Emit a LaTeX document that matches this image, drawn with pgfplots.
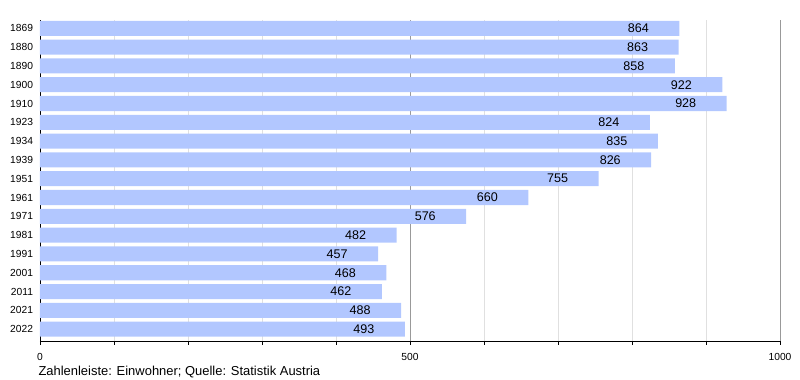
\documentclass[border=0pt]{standalone}
\usepackage{pgfplots}
\pgfplotsset{compat=1.18}
\usepackage{fontspec}
\setmainfont{Liberation Sans}
\definecolor{barblue}{RGB}{178,199,255}
\begin{document}
\begin{tikzpicture}
\begin{axis}[
 scale only axis, width=740bp, height=321bp,
 xbar, bar width=0.8,
 xmin=0, xmax=1000, ymin=-0.44, ymax=16.63, y dir=reverse,
 axis x line=bottom, axis y line=left,
 axis line style={-, black, line width=0.8pt},
 xtick={0,500,1000}, minor xtick={100,200,300,400,600,700,800,900},
 xmajorgrids, xminorgrids,
 major grid style={black!40, line width=0.8pt},
 minor grid style={black!12, line width=0.8pt},
 ytick={0,...,16},
 yticklabels={1869,1880,1890,1900,1910,1923,1934,1939,1951,1961,1971,1981,1991,2001,2011,2021,2022},
 y tick style={draw=none},
 x tick style={black, line width=0.8pt},
 tick align=outside, major tick length=3.5bp, minor tick length=3.5bp,
 tick label style={font=\fontsize{10.3}{12}\selectfont},
 xticklabel style={yshift=-5bp},
 yticklabel style={xshift=0bp},
 /pgf/number format/assume math mode=true,
 /pgf/number format/1000 sep={},
 nodes near coords,
 every node near coord/.append style={anchor=east, xshift=-27bp, font=\fontsize{12.6}{14}\selectfont, text=black},
]
\addplot[fill=barblue, draw=none] coordinates {(864,0) (863,1) (858,2) (922,3) (928,4) (824,5) (835,6) (826,7) (755,8) (660,9) (576,10) (482,11) (457,12) (468,13) (462,14) (488,15) (493,16)};
\end{axis}
\node[anchor=base west, font=\fontsize{13}{15}\selectfont] at ([xshift=-5bp,yshift=-34bp]current axis.south west) {Zahlenleiste: Einwohner; Quelle: Statistik Austria};
\pgfresetboundingbox
\path[use as bounding box] ([xshift=-40bp,yshift=-39bp]current axis.south west) rectangle ([xshift=20bp,yshift=20bp]current axis.north east);
\end{tikzpicture}
\end{document}
